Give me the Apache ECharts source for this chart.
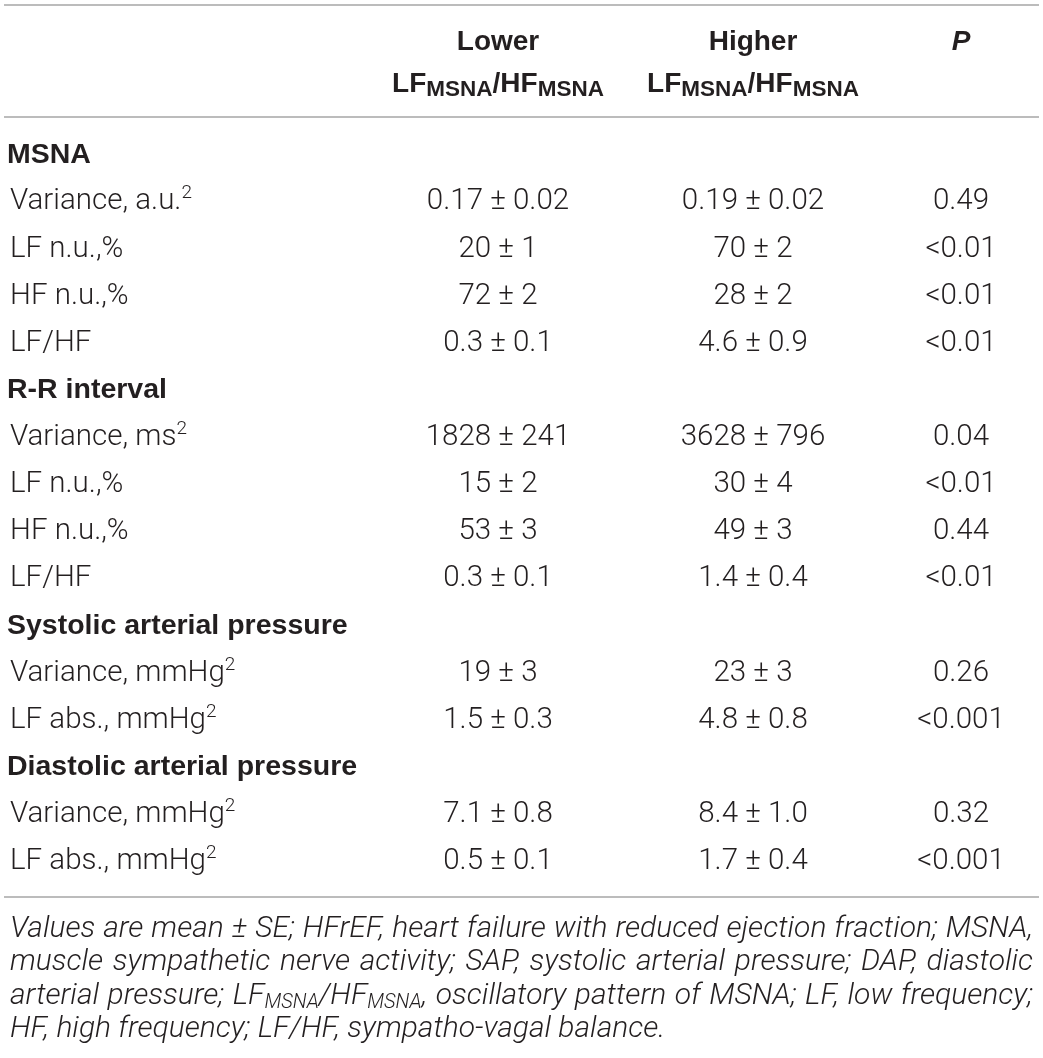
<!DOCTYPE html>
<html>
<head>
<meta charset="utf-8">
<script src="https://cdn.jsdelivr.net/npm/echarts@6/dist/echarts.min.js"></script>
<style>
  html, body { margin: 0; padding: 0; background: #fff; }
  #chart { width: 1043px; height: 1058px; }
</style>
</head>
<body>
<div id="chart"></div>
<script>
// table content
const headerLower = ['Lower', 'LF{s|MSNA}/HF{s|MSNA}'];
const headerHigher = ['Higher', 'LF{s|MSNA}/HF{s|MSNA}'];
const headerP = 'P';

const rowLabels = [
  'MSNA', 'Variance, a.u.{p|2}', 'LF n.u.,%', 'HF n.u.,%', 'LF/HF',
  'R-R interval', 'Variance, ms{p|2}', 'LF n.u.,%', 'HF n.u.,%', 'LF/HF',
  'Systolic arterial pressure', 'Variance, mmHg{p|2}', 'LF abs., mmHg{p|2}',
  'Diastolic arterial pressure', 'Variance, mmHg{p|2}', 'LF abs., mmHg{p|2}'
];
const isSection = [1, 0, 0, 0, 0, 1, 0, 0, 0, 0, 1, 0, 0, 1, 0, 0];
const lowerValues = ['', '0.17 ± 0.02', '20 ± 1', '72 ± 2', '0.3 ± 0.1',
  '', '1828 ± 241', '15 ± 2', '53 ± 3', '0.3 ± 0.1',
  '', '19 ± 3', '1.5 ± 0.3', '', '7.1 ± 0.8', '0.5 ± 0.1'];
const higherValues = ['', '0.19 ± 0.02', '70 ± 2', '28 ± 2', '4.6 ± 0.9',
  '', '3628 ± 796', '30 ± 4', '49 ± 3', '1.4 ± 0.4',
  '', '23 ± 3', '4.8 ± 0.8', '', '8.4 ± 1.0', '1.7 ± 0.4'];
const pValues = ['', '0.49', '<0.01', '<0.01', '<0.01',
  '', '0.04', '<0.01', '0.44', '<0.01',
  '', '0.26', '<0.001', '', '0.32', '<0.001'];

const footnoteLines = [
  'Values are mean ± SE; HFrEF, heart failure with reduced ejection fraction; MSNA,',
  'muscle sympathetic nerve activity; SAP, systolic arterial pressure; DAP, diastolic',
  'arterial pressure; LF{s|MSNA}/HF{s|MSNA}, oscillatory pattern of MSNA; LF, low frequency;',
  'HF, high frequency; LF/HF, sympatho-vagal balance.'
];

// layout
const W = 1043;
const colX = { label: 10, section: 7, lower: 498, higher: 753, p: 961 };
const ink = '#231f20';
const ruleColor = '#a6a6a6';
const bodyFont = 'Roboto';
const boldFont = 'Liberation Sans';
const bodySize = 29.5;

const chart = echarts.init(document.getElementById('chart'), null, { renderer: 'canvas' });

const bodyRich = {
  p: { fontFamily: bodyFont, fontWeight: 300, fontSize: 19, lineHeight: 19, verticalAlign: 'top', fill: ink }
};
const headRich = {
  s: { fontFamily: boldFont, fontWeight: 'bold', fontSize: 22.5, lineHeight: 22.5, verticalAlign: 'bottom', fill: ink }
};

function txt(x, y, text, opts) {
  return {
    type: 'text',
    style: Object.assign({
      x: x, y: y, text: text, fill: ink,
      fontFamily: bodyFont, fontWeight: 300, fontSize: bodySize, lineHeight: 36,
      align: 'center', verticalAlign: 'middle', rich: bodyRich
    }, opts || {})
  };
}

function renderRow(params, api) {
  const i = api.value(1);
  const y = api.coord([0, i])[1];
  const children = [];
  if (isSection[i]) {
    children.push(txt(colX.section, y, rowLabels[i], {
      align: 'left', fontFamily: boldFont, fontWeight: 'bold', fontSize: 28.5
    }));
  } else {
    children.push(txt(colX.label, y, rowLabels[i], { align: 'left' }));
    children.push(txt(colX.lower, y, lowerValues[i]));
    children.push(txt(colX.higher, y, higherValues[i]));
    children.push(txt(colX.p, y, pValues[i]));
  }
  return { type: 'group', children: children };
}

// justified footnote, word by word
const footSize = 30, footSub = 20;
const mctx = document.createElement('canvas').getContext('2d');
function wordWidth(word) {
  let w = 0;
  word.split(/(\{s\|[^}]*\})/).forEach(function (part) {
    if (!part) return;
    const m = part.match(/^\{s\|([^}]*)\}$/);
    mctx.font = 'italic 300 ' + (m ? footSub : footSize) + 'px ' + bodyFont;
    w += mctx.measureText(m ? m[1] : part).width;
  });
  return w;
}
const footLeft = 10, footRight = 1033, footTop = 929, footStep = 33.6;
const footRich = {
  s: { fontFamily: bodyFont, fontStyle: 'italic', fontWeight: 300, fontSize: footSub, lineHeight: footSub, verticalAlign: 'bottom', fill: ink }
};
const footGraphics = [];
footnoteLines.forEach(function (line, li) {
  const words = line.split(' ');
  const widths = words.map(wordWidth);
  const total = widths.reduce(function (a, b) { return a + b; }, 0);
  const last = li === footnoteLines.length - 1;
  mctx.font = 'italic 300 ' + footSize + 'px ' + bodyFont;
  const gap = last ? mctx.measureText(' ').width : (footRight - footLeft - total) / (words.length - 1);
  let x = footLeft;
  words.forEach(function (w, wi) {
    footGraphics.push({
      type: 'text',
      style: {
        x: x, y: footTop + li * footStep, text: w, fill: ink,
        fontFamily: bodyFont, fontStyle: 'italic', fontWeight: 300, fontSize: footSize, lineHeight: 33,
        align: 'left', verticalAlign: 'middle', rich: footRich
      }
    });
    x += widths[wi] + gap;
  });
});

function rule(y) {
  return { type: 'line', shape: { x1: 4, y1: y, x2: W - 4, y2: y }, style: { stroke: ruleColor, lineWidth: 1.5 } };
}
function headText(x, y, text, italic) {
  return {
    type: 'text',
    style: {
      x: x, y: y, text: text, fill: ink,
      fontFamily: boldFont, fontWeight: 'bold', fontStyle: italic ? 'italic' : 'normal', fontSize: 28, lineHeight: 34,
      align: 'center', verticalAlign: 'middle', rich: headRich
    }
  };
}

chart.setOption({
  animation: false,
  backgroundColor: '#fff',
  grid: { left: 0, right: 0, top: 131.4, bottom: 172.6 },
  xAxis: { type: 'value', min: 0, max: W, show: false },
  yAxis: { type: 'category', data: rowLabels.map(function (_, i) { return String(i); }), inverse: true, show: false },
  series: [{
    type: 'custom',
    renderItem: renderRow,
    data: rowLabels.map(function (_, i) { return [0, i]; }),
    silent: true
  }],
  graphic: [
    rule(5), rule(117), rule(897),
    headText(colX.lower, 42, headerLower[0]),
    headText(colX.lower, 84, headerLower[1]),
    headText(colX.higher, 42, headerHigher[0]),
    headText(colX.higher, 84, headerHigher[1]),
    headText(colX.p, 42, headerP, true)
  ].concat(footGraphics)
});

window.addEventListener('resize', function () { chart.resize(); });
</script>
</body>
</html>
